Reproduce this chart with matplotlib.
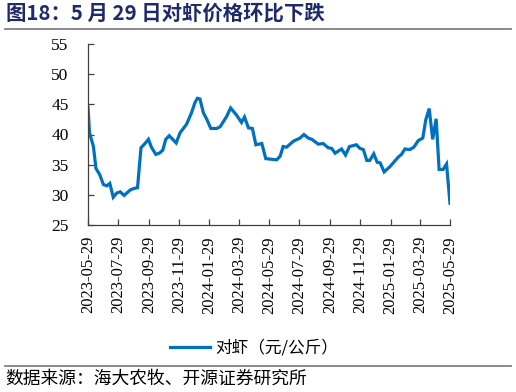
import matplotlib
matplotlib.use("Agg")
import matplotlib.pyplot as plt
import matplotlib.dates as mdates
import pandas as pd

# 对虾价格（元/公斤），从图上读出的近似值
dates = ["2023-05-29", "2023-06-01", "2023-06-09", "2023-06-14", "2023-06-22", "2023-06-29",
         "2023-07-06", "2023-07-12", "2023-07-19", "2023-07-26", "2023-08-02", "2023-08-10",
         "2023-08-22", "2023-08-28", "2023-09-06", "2023-09-13", "2023-09-21", "2023-09-28",
         "2023-10-04", "2023-10-13", "2023-10-20", "2023-10-27", "2023-11-02", "2023-11-09",
         "2023-11-16", "2023-11-23", "2023-12-01", "2023-12-14", "2023-12-24", "2023-12-31",
         "2024-01-05", "2024-01-10", "2024-01-17", "2024-01-24", "2024-02-01", "2024-02-13",
         "2024-02-20", "2024-03-04", "2024-03-12", "2024-03-24", "2024-04-03", "2024-04-09",
         "2024-04-17", "2024-04-25", "2024-05-02", "2024-05-14", "2024-05-22", "2024-06-13",
         "2024-06-20", "2024-06-26", "2024-07-03", "2024-07-17", "2024-07-30", "2024-08-07",
         "2024-08-16", "2024-08-23", "2024-09-05", "2024-09-15", "2024-09-25", "2024-10-02",
         "2024-10-09", "2024-10-22", "2024-10-30", "2024-11-07", "2024-11-21", "2024-11-28",
         "2024-12-05", "2024-12-12", "2024-12-18", "2024-12-26", "2025-01-02", "2025-01-08",
         "2025-01-16", "2025-01-28", "2025-02-14", "2025-02-20", "2025-02-27", "2025-03-09",
         "2025-03-17", "2025-03-26", "2025-04-04", "2025-04-10", "2025-04-17", "2025-04-24",
         "2025-05-01", "2025-05-07", "2025-05-15", "2025-05-22", "2025-05-29"]
price = [44.5, 40.3, 38.0, 34.4, 33.3, 31.7,
         31.5, 31.9, 29.6, 30.3, 30.5, 29.9,
         30.8, 31.0, 31.2, 37.8, 38.5, 39.2,
         37.9, 36.7, 36.9, 37.4, 39.2, 39.8,
         39.2, 38.6, 40.3, 41.7, 43.6, 45.3,
         46.0, 45.9, 43.6, 42.5, 41.0, 41.0,
         41.3, 43.0, 44.4, 43.2, 42.0, 42.9,
         41.1, 41.0, 38.3, 38.5, 36.0, 35.8,
         36.4, 38.0, 37.9, 38.9, 39.4, 40.0,
         39.4, 39.2, 38.4, 38.5, 37.8, 37.7,
         36.9, 37.6, 36.6, 38.0, 38.3, 37.7,
         37.5, 35.7, 35.7, 36.8, 35.4, 35.3,
         33.8, 34.7, 36.3, 36.7, 37.6, 37.5,
         37.9, 39.0, 39.4, 42.4, 44.3, 39.2,
         42.6, 34.2, 34.2, 35.1, 28.6]
tick_dates = ["2023-05-29", "2023-07-29", "2023-09-29", "2023-11-29", "2024-01-29",
              "2024-03-29", "2024-05-29", "2024-07-29", "2024-09-29", "2024-11-29",
              "2025-01-29", "2025-03-29", "2025-05-29"]

x = pd.to_datetime(dates)
ticks = pd.to_datetime(tick_dates)

plt.rcParams['font.family'] = ['Noto Sans CJK SC', 'DejaVu Sans']
serif = ['Liberation Serif', 'DejaVu Serif']

fig = plt.figure(figsize=(5.16, 3.92), dpi=100)
ax = fig.add_axes([88/516, 1-225/392, 362/516, 181/392])

ax.plot(x, price, color='#0070C0', lw=2.3, label='对虾（元/公斤）', solid_joinstyle='miter')
ax.set_xlim(x[0], x[-1])
ax.set_ylim(25, 55)
ax.set_yticks(range(25, 56, 5))
ax.set_xticks(ticks)
ax.xaxis.set_major_formatter(mdates.DateFormatter('%Y-%m-%d'))

for s in ['top', 'right']:
    ax.spines[s].set_visible(False)
for s in ['left', 'bottom']:
    ax.spines[s].set_color('#404040')
    ax.spines[s].set_linewidth(0.9)
ax.tick_params(axis='both', direction='in', length=4, color='#404040', width=0.9)
ax.tick_params(axis='y', pad=14)
ax.tick_params(axis='x', pad=8)
for lab in ax.get_yticklabels():
    lab.set_fontfamily(serif)
    lab.set_fontsize(12.5)
for lab in ax.get_xticklabels():
    lab.set_fontfamily(serif)
    lab.set_fontsize(12)
    lab.set_rotation(90)

leg = fig.legend(loc='center', bbox_to_anchor=(254/516, 1-348/392), frameon=False,
                 fontsize=12, handlelength=2.4, handletextpad=0.3)

# 标题与来源
fig.text(6/516, 1-13/392, '图18：5 月 29 日对虾价格环比下跌', fontsize=14.7, fontweight='bold',
         color='#1F2A6B', va='center', ha='left')
fig.add_artist(plt.Line2D([5/516, 511/516], [1-29/392, 1-29/392], color='#808080', lw=1.3))
fig.add_artist(plt.Line2D([5/516, 511/516], [1-366/392, 1-366/392], color='#808080', lw=1.3))
fig.text(5/516, 1-379/392, '数据来源：海大农牧、开源证券研究所', fontsize=12.8, color='black',
         va='center', ha='left')

plt.savefig('out.png', dpi=100)
